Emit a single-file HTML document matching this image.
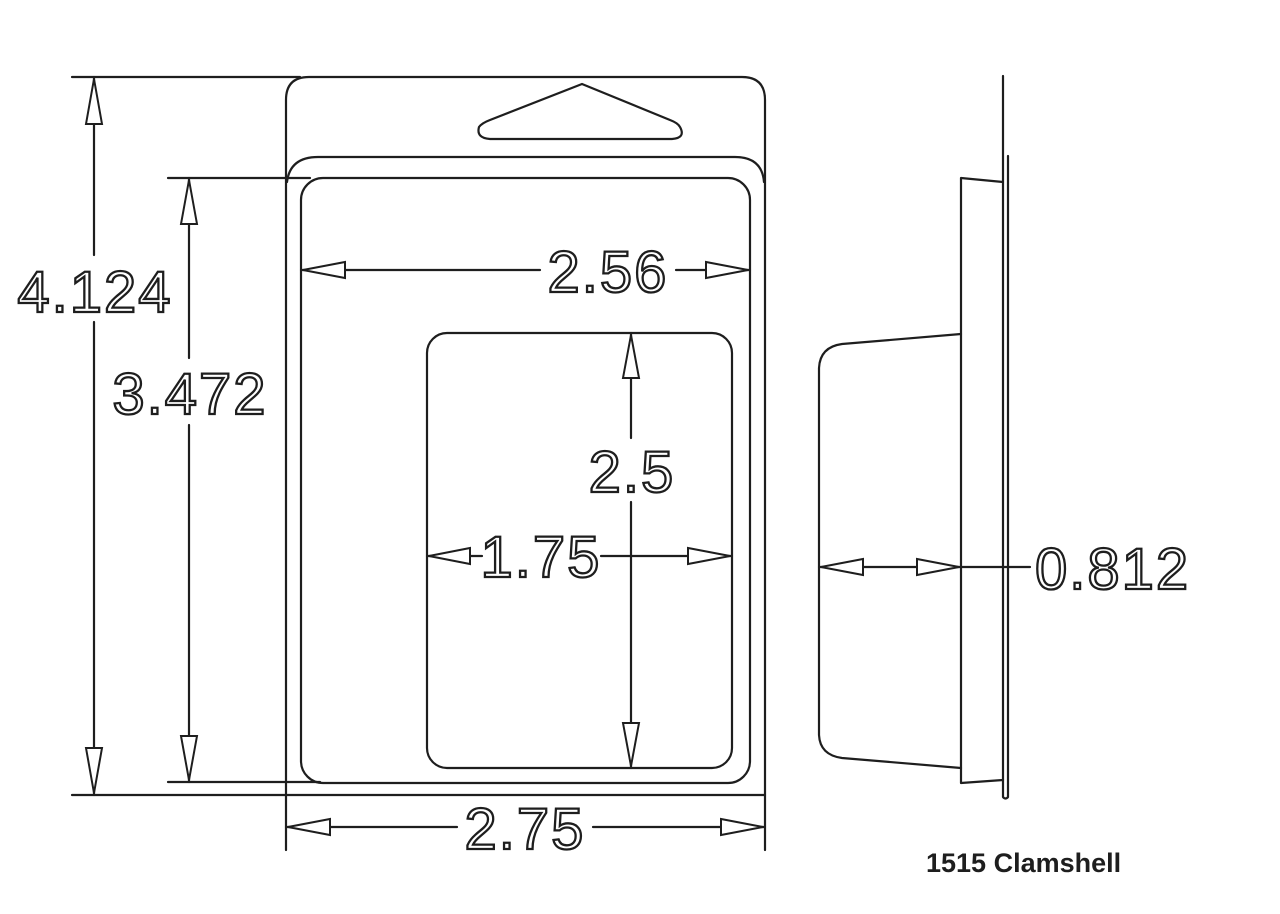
<!DOCTYPE html>
<html><head><meta charset="utf-8"><style>
html,body{margin:0;padding:0;background:#fff;}
svg{display:block}
.l{stroke:#1e1e1e;stroke-width:2.2;fill:none;stroke-linecap:round;stroke-linejoin:round}
.a{stroke:#1e1e1e;stroke-width:2;fill:#fff;stroke-linejoin:miter}
.t{font-family:"Liberation Sans",sans-serif;font-size:58px;fill:#fff;stroke:#1e1e1e;stroke-width:2.3;letter-spacing:2px}
</style></head><body>
<svg width="1280" height="914" viewBox="0 0 1280 914" xmlns="http://www.w3.org/2000/svg">
<path class="l" d="M286 850 V100 Q286 77 309 77 H742 Q765 77 765 100 V850"/>
<line class="l" x1="72" y1="77" x2="300" y2="77"/>
<path class="l" d="M479 127 Q476 138 490 139 H672 Q686 138 680 127 Q678 123 670 120 L582 84 L490 120 Q482 123 479 127 Z"/>
<path class="l" d="M287 182 Q290 157 318 157 H735 Q762 157 764 182"/>
<rect class="l" x="301" y="178" width="449" height="605" rx="22"/>
<line class="l" x1="168" y1="178" x2="310" y2="178"/>
<line class="l" x1="168" y1="782" x2="320" y2="782"/>
<line class="l" x1="72" y1="795" x2="765" y2="795"/>
<rect class="l" x="427" y="333" width="305" height="435" rx="20"/>
<line class="l" x1="94" y1="77" x2="94" y2="255"/><line class="l" x1="94" y1="322" x2="94" y2="795"/>
<polygon class="a" points="94,79 86,124 102,124"/><polygon class="a" points="94,793 86,748 102,748"/>
<text class="t" x="95" y="312" text-anchor="middle">4.124</text>
<line class="l" x1="189" y1="178" x2="189" y2="358"/><line class="l" x1="189" y1="425" x2="189" y2="782"/>
<polygon class="a" points="189,180 181,224 197,224"/><polygon class="a" points="189,780 181,736 197,736"/>
<text class="t" x="190" y="414" text-anchor="middle">3.472</text>
<line class="l" x1="301" y1="270" x2="540" y2="270"/><line class="l" x1="676" y1="270" x2="750" y2="270"/>
<polygon class="a" points="303,270 345,262 345,278"/><polygon class="a" points="748,270 706,262 706,278"/>
<text class="t" x="608" y="292" text-anchor="middle">2.56</text>
<line class="l" x1="631" y1="333" x2="631" y2="438"/><line class="l" x1="631" y1="502" x2="631" y2="768"/>
<polygon class="a" points="631,335 623,378 639,378"/><polygon class="a" points="631,766 623,723 639,723"/>
<text class="t" x="632" y="492" text-anchor="middle">2.5</text>
<line class="l" x1="427" y1="556" x2="482" y2="556"/><line class="l" x1="601" y1="556" x2="732" y2="556"/>
<polygon class="a" points="429,556 470,548 470,564"/><polygon class="a" points="730,556 688,548 688,564"/>
<text class="t" x="541" y="577" text-anchor="middle">1.75</text>
<line class="l" x1="286" y1="827" x2="457" y2="827"/><line class="l" x1="593" y1="827" x2="765" y2="827"/>
<polygon class="a" points="288,827 330,819 330,835"/><polygon class="a" points="763,827 721,819 721,835"/>
<text class="t" x="525" y="849" text-anchor="middle">2.75</text>
<path class="l" d="M1003 76 V797 Q1005.5 800 1008 797 V156"/>
<path class="l" d="M1003 182 L961 178 V783 L1003 780"/>
<path class="l" d="M961 334 L842 344 Q820 347 819 368 V735 Q820 755 842 758 L961 768"/>
<line class="l" x1="819" y1="567" x2="1030" y2="567"/>
<polygon class="a" points="821,567 863,559 863,575"/><polygon class="a" points="959,567 917,559 917,575"/>
<text class="t" x="1035" y="589">0.812</text>
<text x="926" y="872" style="font-family:'Liberation Sans',sans-serif;font-weight:bold;font-size:27px;fill:#1e1e1e">1515 Clamshell</text>
</svg>
</body></html>
